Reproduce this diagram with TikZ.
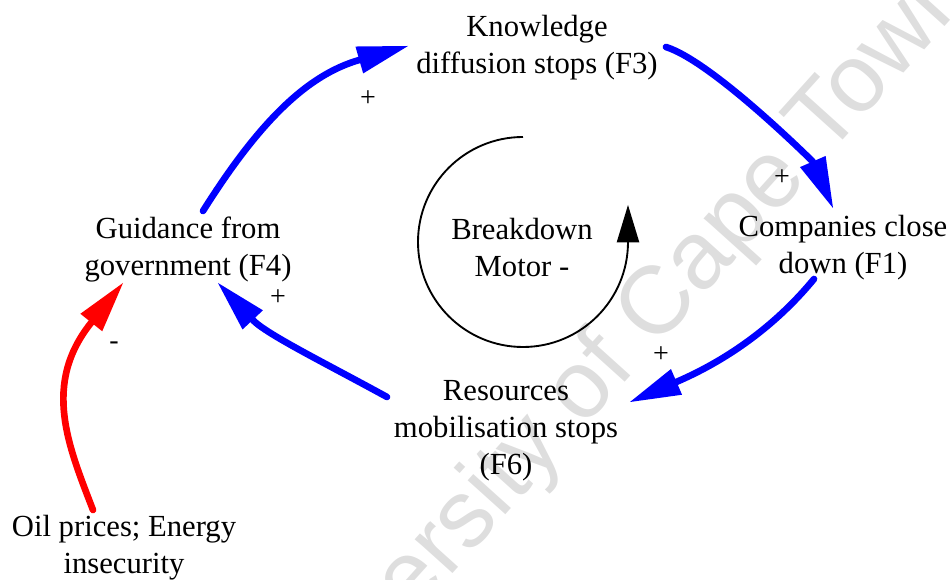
\documentclass[tikz,border=0pt]{standalone}
\usepackage{fontspec}
\setmainfont{Liberation Serif}
\newfontfamily\wmfont{Liberation Sans}
\usetikzlibrary{arrows.meta,calc}
\begin{document}
\begin{tikzpicture}[x=0.75pt,y=-0.75pt,
  lbl/.style={font=\fontsize{23}{27.75}\selectfont, align=center, inner sep=0pt},
  sgn/.style={font=\fontsize{21}{24}\selectfont, inner sep=0pt},
  link/.style={line width=5pt, draw=blue, line cap=round,
    -{Triangle[length=38pt,width=21pt,line width=0pt,fill=blue]}},
  neglink/.style={line width=5pt, draw=red, line cap=round,
    -{Triangle[length=38pt,width=21pt,line width=0pt,fill=red]}},
  looparrow/.style={line width=1.4pt, draw=black,
    -{Triangle[length=28pt,width=17pt,line width=0pt]}},
  wm/.style={font=\wmfont\fontsize{72}{84}\selectfont, text=black!13, inner sep=0pt}
]
\useasboundingbox (0,0) rectangle (950,580);
% watermark
\node[wm, rotate=48] (wmark) at (612,360) {University of Cape Town};
% variables
\node[lbl] (F3) at (537,48) {Knowledge\\diffusion stops (F3)};
\node[lbl] (F4) at (188,250) {Guidance from\\government (F4)};
\node[lbl] (F1) at (843,248) {Companies close\\down (F1)};
\node[lbl] (F6) at (506,431) {Resources\\mobilisation stops\\(F6)};
\node[lbl] (oil) at (124,548) {Oil prices; Energy\\insecurity};
\node[lbl] (mot) at (522,248) {Breakdown\\Motor -};
% loop symbol
\draw[looparrow] (523,137) arc[start angle=90, end angle=360, radius=78.75pt] -- ++(0,-37);
% links
\draw[link] ($(F4)+(15,-39)$) .. controls (259,122) and (307,75) .. ($(F3)+(-129,-2)$);
\draw[link] ($(F3)+(129,-1)$) .. controls (713,62) and (813,162) .. ($(F1)+(-10,-40)$);
\draw[link] ($(F1)+(-29,31)$) .. controls (763,341) and (704,370) .. ($(F6)+(124,-29)$);
\draw[link] ($(F6)+(-119,-34)$) .. controls (325,363) and (266,334) .. ($(F4)+(30,33)$);
\draw[neglink] ($(oil)+(-31,-38)$) .. controls (68,445) and (42,384) .. ($(F4)+(-65,33)$);
% polarities
\node[sgn] (s1) at (368,99) {+};
\node[sgn] (s2) at (782,178) {+};
\node[sgn] (s3) at (661,355) {+};
\node[sgn] (s4) at (278,298) {+};
\node[sgn] (s5) at (114,346) {-};
\end{tikzpicture}
\end{document}
